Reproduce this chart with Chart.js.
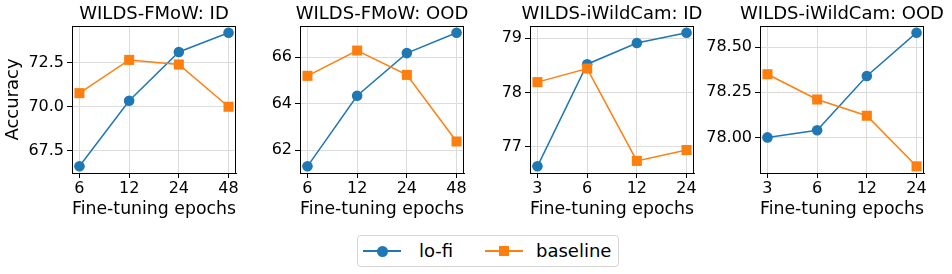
<!DOCTYPE html>
<html lang="en">
<head>
<meta charset="UTF-8">
<title>lo-fi vs baseline</title>
<script src="https://cdn.jsdelivr.net/npm/chart.js"></script>
<style>
  body { margin: 0; background: #fff; font-family: "DejaVu Sans", sans-serif; }
  #wrap { position: relative; width: 952px; height: 274px; overflow: hidden; }
  #wrap canvas { position: absolute; top: 0; }
  #legend { position: absolute; left: 357px; top: 235px; width: 260px; height: 30px;
            border: 1px solid #d6d6d6; border-radius: 4px; font-size: 18px; color: #000; }
  .item { position: absolute; top: 0; height: 30px; }
  .ln { position: absolute; top: 15px; width: 38px; height: 2px; margin-top: -1px; }
  .mk { position: absolute; top: 15px; }
  .lbl { position: absolute; top: 4px; white-space: nowrap; line-height: 22px; }
</style>
</head>
<body>
<div id="wrap">
  <canvas id="c0"></canvas>
  <canvas id="c1"></canvas>
  <canvas id="c2"></canvas>
  <canvas id="c3"></canvas>
  <div id="legend">
    <div class="item" style="left:5px">
      <div class="ln" style="background:#1f77b4"></div>
      <div class="mk" style="left:13.5px;margin-top:-5.5px;width:11px;height:11px;border-radius:50%;background:#1f77b4"></div>
      <div class="lbl" style="left:56px">lo-fi</div>
    </div>
    <div class="item" style="left:127px">
      <div class="ln" style="background:#ff7f0e"></div>
      <div class="mk" style="left:14px;margin-top:-5px;width:10px;height:10px;background:#ff7f0e"></div>
      <div class="lbl" style="left:51px">baseline</div>
    </div>
  </div>
</div>
<script>
// categories (fine-tuning epochs)
const epochsFmow = ['6', '12', '24', '48'];
const epochsCam = ['3', '6', '12', '24'];

// accuracy values
const lofiFmowId = [66.63, 70.34, 73.10, 74.19];
const baseFmowId = [70.77, 72.65, 72.39, 70.00];
const lofiFmowOod = [61.30, 64.34, 66.18, 67.06];
const baseFmowOod = [65.20, 66.29, 65.24, 62.37];
const lofiCamId = [76.64, 78.52, 78.91, 79.10];
const baseCamId = [78.19, 78.44, 76.74, 76.94];
const lofiCamOod = [78.00, 78.04, 78.34, 78.58];
const baseCamOod = [78.35, 78.21, 78.12, 77.84];

// y tick labels
const yTicksFmowId = ['67.5', '70.0', '72.5'];
const yTicksFmowOod = ['62', '64', '66'];
const yTicksCamId = ['77', '78', '79'];
const yTicksCamOod = ['78.00', '78.25', '78.50'];

const panels = [
  { title: 'WILDS-FMoW: ID', cats: epochsFmow, lofi: lofiFmowId, base: baseFmowId, yt: yTicksFmowId },
  { title: 'WILDS-FMoW: OOD', cats: epochsFmow, lofi: lofiFmowOod, base: baseFmowOod, yt: yTicksFmowOod },
  { title: 'WILDS-iWildCam: ID', cats: epochsCam, lofi: lofiCamId, base: baseCamId, yt: yTicksCamId },
  { title: 'WILDS-iWildCam: OOD', cats: epochsCam, lofi: lofiCamOod, base: baseCamOod, yt: yTicksCamOod }
];

const plotLefts = [72, 300, 530, 760];
const plotW = 164;
const plotTop = 26;
const plotBottom = 173;
const canvasH = 224;
const rightPad = 30;
const FONT = 'DejaVu Sans';

// box around the plot area + panel title centred over it (matplotlib style, no squeezing)
const frame = {
  id: 'frame',
  afterDraw(chart) {
    const a = chart.chartArea, ctx = chart.ctx;
    ctx.save();
    ctx.strokeStyle = '#000';
    ctx.lineWidth = 1;
    ctx.strokeRect(Math.round(a.left) + 0.5, Math.round(a.top) + 0.5,
                   Math.round(a.right - a.left) - 1, Math.round(a.bottom - a.top));
    ctx.fillStyle = '#000';
    ctx.font = '18px "' + FONT + '"';
    ctx.textAlign = 'center';
    ctx.textBaseline = 'middle';
    ctx.fillText(chart.options.plugins.frame.text, (a.left + a.right) / 2, 14.4);
    ctx.restore();
  }
};

panels.forEach(function (p, k) {
  const yw = k === 0 ? 72 : 60;
  const cv = document.getElementById('c' + k);
  cv.width = yw + plotW + rightPad;
  cv.height = canvasH;
  cv.style.left = (plotLefts[k] - yw) + 'px';

  const all = p.lofi.concat(p.base);
  const lo = Math.min.apply(null, all), hi = Math.max.apply(null, all);
  const pad = (hi - lo) * 0.05;

  new Chart(cv, {
    type: 'line',
    data: {
      datasets: [
        {
          label: 'lo-fi',
          data: p.lofi.map((v, i) => ({ x: i, y: v })),
          borderColor: '#1f77b4', backgroundColor: '#1f77b4',
          borderWidth: 1.5, pointStyle: 'circle', pointRadius: 5.3,
          pointBorderWidth: 0, order: 1
        },
        {
          label: 'baseline',
          data: p.base.map((v, i) => ({ x: i, y: v })),
          borderColor: '#ff7f0e', backgroundColor: '#ff7f0e',
          borderWidth: 1.5, pointStyle: 'rect', pointRadius: 7.1,
          pointBorderWidth: 0, order: 0
        }
      ]
    },
    options: {
      responsive: false,
      animation: false,
      devicePixelRatio: 1,
      layout: { padding: { left: 0, right: rightPad, top: plotTop, bottom: 0 } },
      plugins: {
        legend: { display: false },
        tooltip: { enabled: false },
        title: { display: false },
        frame: { text: p.title }
      },
      scales: {
        x: {
          type: 'linear', min: -0.15, max: p.cats.length - 1 + 0.15,
          afterBuildTicks: s => { s.ticks = p.cats.map((c, i) => ({ value: i })); },
          afterFit: s => { s.height = canvasH - plotBottom; },
          ticks: {
            color: '#000', font: { family: FONT, size: 16 }, padding: 1,
            maxRotation: 0, autoSkip: false,
            callback: v => p.cats[v]
          },
          grid: { color: '#dcdcdc', tickColor: '#000', tickLength: 5, lineWidth: 1 },
          border: { color: '#000', width: 1 },
          title: {
            display: true, text: 'Fine-tuning epochs', color: '#000',
            font: { family: FONT, size: 18 }, padding: { top: 0, bottom: 4 }
          }
        },
        y: {
          type: 'linear', min: lo - pad, max: hi + pad,
          afterBuildTicks: s => { s.ticks = p.yt.map(t => ({ value: parseFloat(t) })); },
          afterFit: s => { s.width = yw; },
          ticks: {
            color: '#000', font: { family: FONT, size: 16 }, padding: 3,
            callback: v => p.yt.find(t => Math.abs(parseFloat(t) - v) < 1e-6)
          },
          grid: { color: '#dcdcdc', tickColor: '#000', tickLength: 5, lineWidth: 1 },
          border: { color: '#000', width: 1 },
          title: {
            display: k === 0, text: 'Accuracy', color: '#000',
            font: { family: FONT, size: 18 }, padding: { top: 3, bottom: 0 }
          }
        }
      }
    },
    plugins: [frame]
  });
});
</script>
</body>
</html>
